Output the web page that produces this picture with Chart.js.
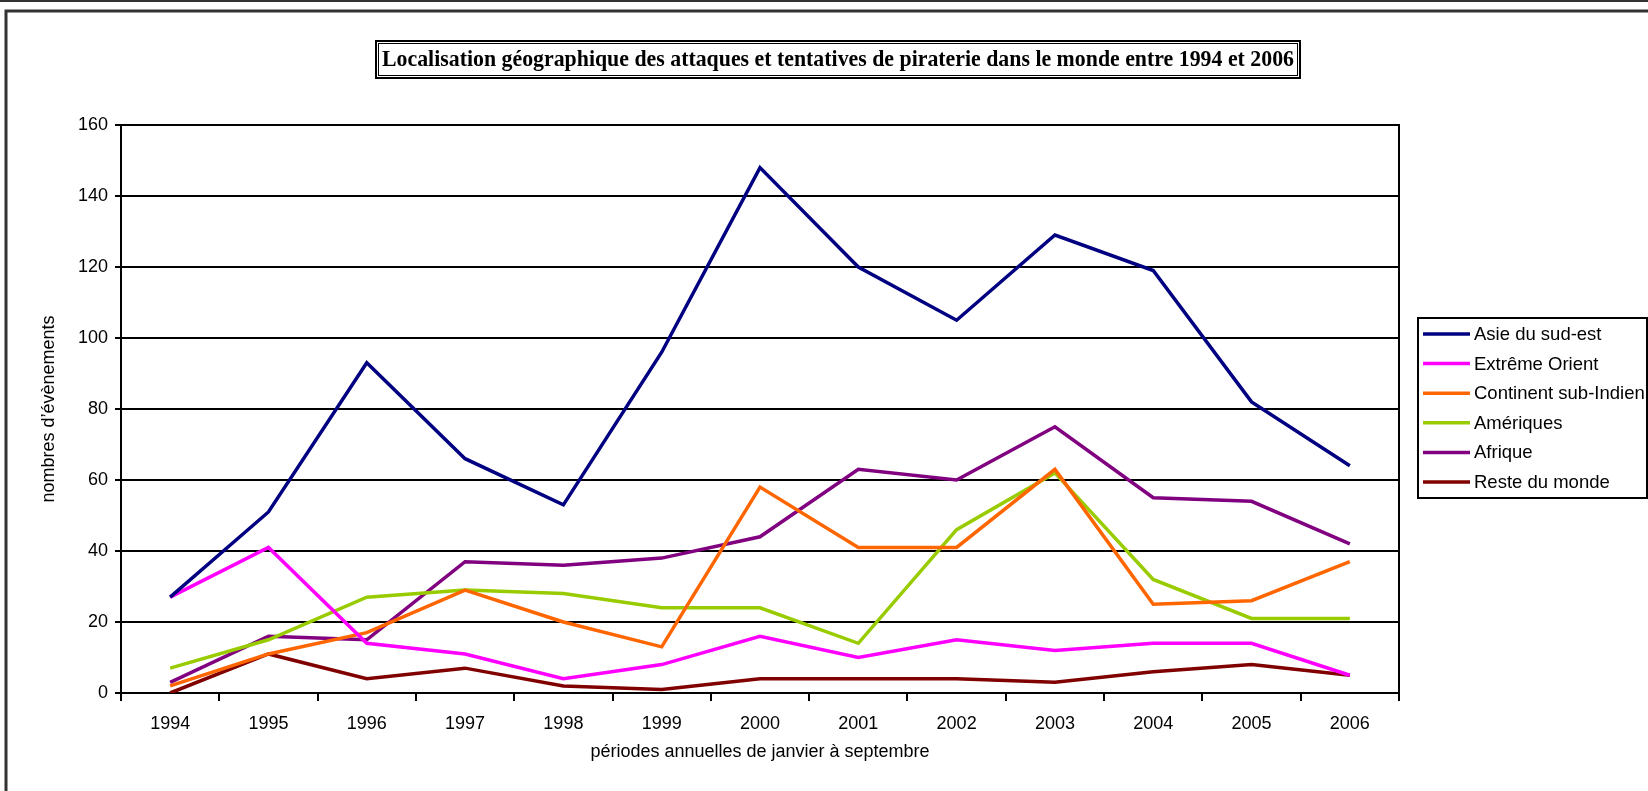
<!DOCTYPE html>
<html>
<head>
<meta charset="utf-8">
<script src="https://cdn.jsdelivr.net/npm/chart.js@4.4.0/dist/chart.umd.min.js"></script>
<style>
  body { margin: 0; background: #fff; }
  canvas { display: block; }
</style>
</head>
<body>
<canvas id="chart" width="1648" height="791"></canvas>
<script>
'use strict';

// data
const years = ['1994', '1995', '1996', '1997', '1998', '1999', '2000', '2001', '2002', '2003', '2004', '2005', '2006'];
const asieSudEst = [27, 51, 93, 66, 53, 96, 148, 120, 105, 129, 119, 82, 64];
const extremeOrient = [27, 41, 14, 11, 4, 8, 16, 10, 15, 12, 14, 14, 5];
const continentSubIndien = [2, 11, 17, 29, 20, 13, 58, 41, 41, 63, 25, 26, 37];
const ameriques = [7, 15, 27, 29, 28, 24, 24, 14, 46, 62, 32, 21, 21];
const afrique = [3, 16, 15, 37, 36, 38, 44, 63, 60, 75, 55, 54, 42];
const resteDuMonde = [0, 11, 4, 7, 2, 1, 4, 4, 4, 3, 6, 8, 5];

const seriesNames = ['Asie du sud-est', 'Extrême Orient', 'Continent sub-Indien', 'Amériques', 'Afrique', 'Reste du monde'];
const seriesColors = ['#000080', '#ff00ff', '#ff6600', '#99cc00', '#800080', '#800000'];
const yMin = 0;
const yMax = 160;
const yStep = 20;

const chartTitle = 'Localisation géographique des attaques et tentatives de piraterie dans le monde entre 1994 et 2006';
const yTitle = 'nombres d\u2019évènements';
const xTitle = 'périodes annuelles de janvier à septembre';

const allSeries = [asieSudEst, extremeOrient, continentSubIndien, ameriques, afrique, resteDuMonde];

const labelFont = { family: '"Liberation Sans", Arial, sans-serif', size: 18 };

// page frame, title box, plot frame and legend drawn by hand
const decorations = {
  id: 'decorations',
  beforeDatasetsDraw(chart) {
    const ctx = chart.ctx;
    const area = chart.chartArea;
    ctx.save();
    ctx.strokeStyle = '#000';
    ctx.lineWidth = 2;
    ctx.strokeRect(area.left, area.top, area.right - area.left, area.bottom - area.top);
    ctx.restore();
  },
  afterDraw(chart) {
    const ctx = chart.ctx;
    ctx.save();

    // page border
    ctx.strokeStyle = '#333';
    ctx.lineWidth = 2;
    ctx.beginPath();
    ctx.moveTo(0, 1); ctx.lineTo(1648, 1);
    ctx.stroke();
    ctx.lineWidth = 3;
    ctx.beginPath();
    ctx.moveTo(6, 791); ctx.lineTo(6, 11); ctx.lineTo(1648, 11);
    ctx.stroke();

    // title box
    ctx.strokeStyle = '#000';
    ctx.lineWidth = 2;
    ctx.strokeRect(376, 41, 924, 37);
    ctx.lineWidth = 1;
    ctx.strokeRect(378.5, 43.5, 919, 32);
    ctx.font = 'bold 23px "Liberation Serif", "Times New Roman", serif';
    ctx.fillStyle = '#000';
    ctx.textAlign = 'center';
    ctx.textBaseline = 'middle';
    const w = ctx.measureText(chartTitle).width;
    ctx.translate(838, 60);
    ctx.scale(912 / w, 1);
    ctx.fillText(chartTitle, 0, 0);
    ctx.setTransform(1, 0, 0, 1, 0, 0);

    // legend
    ctx.lineWidth = 2;
    ctx.strokeRect(1418, 318, 229, 180);
    ctx.font = '18.5px "Liberation Sans", Arial, sans-serif';
    ctx.textAlign = 'left';
    chart.data.datasets.forEach((ds, i) => {
      const y = 334 + i * 29.6;
      ctx.strokeStyle = ds.borderColor;
      ctx.lineWidth = 3.5;
      ctx.beginPath();
      ctx.moveTo(1423, y);
      ctx.lineTo(1470, y);
      ctx.stroke();
      ctx.fillStyle = '#000';
      ctx.fillText(ds.label, 1474, y + 1);
    });
    ctx.restore();
  }
};

new Chart(document.getElementById('chart'), {
  type: 'line',
  data: {
    labels: years,
    datasets: allSeries.map((values, i) => ({
      label: seriesNames[i],
      data: values,
      borderColor: seriesColors[i],
      backgroundColor: seriesColors[i],
      borderWidth: 3.5,
      pointRadius: 0,
      tension: 0,
      fill: false
    }))
  },
  options: {
    responsive: false,
    animation: false,
    layout: {
      padding: { left: 30, right: 249, top: 125, bottom: 10 }
    },
    plugins: {
      legend: { display: false },
      title: { display: false },
      tooltip: { enabled: false }
    },
    scales: {
      x: {
        type: 'category',
        offset: true,
        afterFit: (scale) => { scale.height = 88; },
        grid: {
          offset: true,
          drawOnChartArea: false,
          drawTicks: true,
          tickLength: 8,
          color: '#000',
          lineWidth: 2
        },
        border: { display: true, color: '#000', width: 2 },
        ticks: { color: '#000', font: labelFont, padding: 12, maxRotation: 0 },
        title: {
          display: true,
          text: xTitle,
          color: '#000',
          font: labelFont,
          padding: { top: 0, bottom: 18 }
        }
      },
      y: {
        min: yMin,
        max: yMax,
        afterFit: (scale) => { scale.width = 91; },
        grid: {
          color: '#000',
          lineWidth: 2,
          tickLength: 6
        },
        border: { display: true, color: '#000', width: 2 },
        ticks: { stepSize: yStep, color: '#000', font: labelFont, padding: 7 },
        title: {
          display: true,
          text: yTitle,
          color: '#000',
          font: labelFont,
          padding: { top: 8, bottom: 0 }
        }
      }
    }
  },
  plugins: [decorations]
});
</script>
</body>
</html>
